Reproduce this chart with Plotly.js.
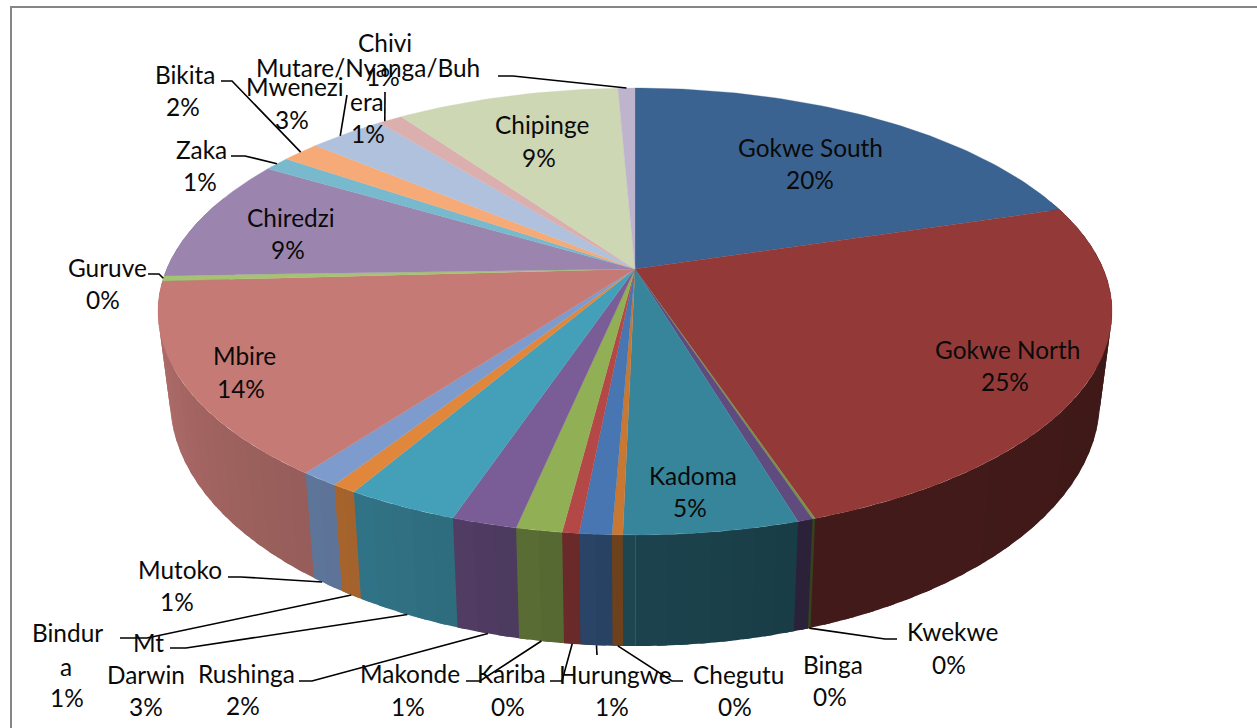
<!DOCTYPE html>
<html><head><meta charset="utf-8">
<script src="https://cdn.plot.ly/plotly-3.0.1.min.js"></script>
<style>html,body{margin:0;padding:0;background:#fff}#c{width:1257px;height:728px}</style>
</head><body><div id="c"></div>
<script>
// ---- data (clockwise from 12 o'clock) ----
const districts = ["Gokwe South","Gokwe North","Kwekwe","Binga","Kadoma","Chegutu","Hurungwe","Kariba","Makonde","Rushinga","Mt Darwin","Bindura","Mutoko","Mbire","Guruve","Chiredzi","Zaka","Bikita","Mwenezi","Chivi","Chipinge","Mutare/Nyanga/Buhera"];
const shares = [20.3,24.6,0.08,0.43,4.93,0.3,0.91,0.47,1.3,1.85,3.2,0.7,1.1,13.96,0.4,9.0,1.05,1.55,3.1,1.0,9.09,0.69];
const colours = [[58,99,145],[147,58,56],[120,145,70],[95,75,125],[55,133,155],[200,120,50],[72,118,178],[180,72,70],[145,175,85],[122,92,150],[68,160,185],[225,135,60],[125,155,205],[197,122,118],[165,195,115],[155,133,175],[120,185,205],[245,170,120],[175,193,220],[220,175,175],[205,215,180],[190,180,205]];

// ---- label placement: text lines with centres; leader: elbow points, rim = which edge it meets ----
const labelPlacement = {
 "Gokwe South":{lines:[["Gokwe South",810,147.5],["%",810,179.5]]},
 "Gokwe North":{lines:[["Gokwe North",1007,349.5],["%",1005,381.5]]},
 "Kwekwe":{lines:[["Kwekwe",952,631.5],["%",949,664.5]],leader:[[897,639],[885,639]],rim:"bottom"},
 "Binga":{lines:[["Binga",833,664.5],["%",830,696.5]]},
 "Kadoma":{lines:[["Kadoma",693,475.5],["%",690,507.5]]},
 "Chegutu":{lines:[["Chegutu",738,674.5],["%",735,706.5]],leader:[[683,681],[672,681]],rim:"bottom"},
 "Hurungwe":{lines:[["Hurungwe",615,674.5],["%",612,706.5]],leader:[[597,655]],rim:"bottom"},
 "Kariba":{lines:[["Kariba",511,673.5],["%",508,706.5]],leader:[[550,681],[562,681]],rim:"bottom"},
 "Makonde":{lines:[["Makonde",410,673.5],["%",408,706.5]],leader:[[466,681],[480,681]],rim:"bottom"},
 "Rushinga":{lines:[["Rushinga",246,673.5],["%",243,705.5]],leader:[[299,681],[312,681]],rim:"bottom"},
 "Mt Darwin":{lines:[["Mt",148,642.5],["Darwin",146,674.5],["%",146,706.5]],leader:[[170,648],[186,648]],rim:"bottom"},
 "Bindura":{lines:[["Bindur",67,632.5],["a",66,666.5],["%",67,697.5]],leader:[[120,638],[147,638]],rim:"bottom"},
 "Mutoko":{lines:[["Mutoko",180,569.5],["%",177,601.5]],leader:[[228,577],[241,577]],rim:"bottom",along:0.7},
 "Mbire":{lines:[["Mbire",244,355.5],["%",241,388.5]]},
 "Guruve":{lines:[["Guruve",107,267.5],["%",103,299.5]],leader:[[148,274],[159,274]],rim:"top"},
 "Chiredzi":{lines:[["Chiredzi",291,217.5],["%",288,249.5]]},
 "Zaka":{lines:[["Zaka",201,149.5],["%",200,181.5]],leader:[[231,156],[245,156]],rim:"top"},
 "Bikita":{lines:[["Bikita",185,74.5],["%",183,106.5]],leader:[[221,81],[232,81]],rim:"top"},
 "Mwenezi":{lines:[["Mwenezi",295,86.5],["%",292,119.5]],leader:[[347,95]],rim:"top",along:0.4},
 "Chivi":{lines:[["Chivi",385,42.5],["%",383,76.5]],leader:[[385,92]],rim:"top",along:0.25},
 "Chipinge":{lines:[["Chipinge",542,124.5],["%",539,157.5]]},
 "Mutare/Nyanga/Buhera":{lines:[["Mutare/Nyanga/Buh",368,67.5],["era",367,101.5],["%",368,133.5]],leader:[[498,76],[513,76]],rim:"top"}
};

// ---- perspective of the tilted disc ----
const CX = 635, C = 0.19;
const topRim = {k:468.3, a:-164.3, b:269, s:1};
const botRim = {k:468.3, a:-170, b:353.3, s:1.026};
function project(rim, deg, r){
  const t = deg*Math.PI/180, X = r*Math.sin(t), Y = r*Math.cos(t);
  return [CX + rim.k*X/(rim.s*(1+C*Y)), (rim.a*Y+rim.b)/(1+C*Y)];
}
// side shading by angle (clockwise from 12 o'clock)
const shadeStops = [[0,.42],[100,.42],[162,.45],[178,.5],[183,.56],[200,.68],[215,.75],[260,.9],[360,.9]];
function shade(deg){
  for(let i=1;i<shadeStops.length;i++){
    if(deg<=shadeStops[i][0]){
      const [a,va]=shadeStops[i-1],[b,vb]=shadeStops[i];
      return va+(vb-va)*(deg-a)/(b-a);
    }
  }
  return .9;
}
const total = shares.reduce((a,b)=>a+b,0);
let acc = 0;
const slices = shares.map((v,i)=>{const s=acc/total*360; acc+=v; return {i,start:s,end:acc/total*360};});

const traces = [];
// side walls: thin strips; each runs a little under the next one painted, towards the front
const rightStrips = [], leftStrips = [];
slices.forEach(sl=>{
  const n = Math.max(1,Math.ceil((sl.end-sl.start)/2.5));
  for(let j=0;j<n;j++){
    const a = sl.start+(sl.end-sl.start)*j/n, b = sl.start+(sl.end-sl.start)*(j+1)/n, m=(a+b)/2;
    if(m<70||m>290) continue;
    (m<180?rightStrips:leftStrips).push({i:sl.i,a,b,m});
  }
});
rightStrips.sort((p,q)=>p.m-q.m);
leftStrips.sort((p,q)=>q.m-p.m);
function addStrip(st,a,b){
  const c = colours[st.i].map(v=>Math.round(v*shade(st.m)));
  const col = `rgb(${c.join(",")})`;
  const p = [];
  for(let d=a;d<b;d+=0.5) p.push(project(topRim,d,1));
  p.push(project(topRim,b,1));
  p.push(project(botRim,b,1));
  for(let d=b-0.5;d>a;d-=0.5) p.push(project(botRim,d,1));
  p.push(project(botRim,a,1));
  p.push(p[0]);
  traces.push({type:"scatter",mode:"none",x:p.map(q=>q[0]),y:p.map(q=>q[1]),fill:"toself",fillcolor:col,hoverinfo:"skip",showlegend:false});
}
rightStrips.forEach(st=>addStrip(st,st.a,st.b+1));
leftStrips.forEach(st=>addStrip(st,Math.max(180,st.a-1),st.b));
// top face
slices.forEach(sl=>{
  const pts=[project(topRim,0,0)];
  const n=Math.max(2,Math.ceil(sl.end-sl.start));
  for(let j=0;j<=n;j++) pts.push(project(topRim,sl.start+(sl.end-sl.start)*j/n,1));
  pts.push(pts[0]);
  const col=`rgb(${colours[sl.i].join(",")})`;
  traces.push({type:"scatter",mode:"lines",x:pts.map(q=>q[0]),y:pts.map(q=>q[1]),fill:"toself",fillcolor:col,line:{color:col,width:0.3},name:districts[sl.i],hoverinfo:"skip",showlegend:false});
});
// leaders and labels
const annotations=[];
districts.forEach((name,i)=>{
  const pl=labelPlacement[name], pct=Math.round(shares[i]/total*100)+"%";
  pl.lines.forEach(l=>annotations.push({x:l[1],y:l[2],xref:"x",yref:"y",text:l[0]==="%"?pct:l[0],showarrow:false,xanchor:"center",yanchor:"middle",font:{family:"Lato, Carlito, sans-serif",size:24.4,color:"#0a0a0a"}}));
  if(pl.leader){
    const f=pl.along===undefined?0.5:pl.along;
    const deg=slices[i].start+(slices[i].end-slices[i].start)*f;
    const end=project(pl.rim==="top"?topRim:botRim,deg,1);
    const path=pl.leader.concat([end]);
    traces.push({type:"scatter",mode:"lines",x:path.map(q=>q[0]),y:path.map(q=>q[1]),line:{color:"#000",width:1.6},hoverinfo:"skip",showlegend:false});
  }
});
const layout={width:1257,height:728,margin:{l:0,r:0,t:0,b:0},paper_bgcolor:"#fff",plot_bgcolor:"#fff",showlegend:false,
 xaxis:{range:[0,1257],visible:false,fixedrange:true},
 yaxis:{range:[728,0],visible:false,fixedrange:true},
 annotations,
 shapes:[
  {type:"line",xref:"paper",yref:"paper",x0:11/1257,x1:1,y0:1-7/728,y1:1-7/728,line:{color:"#868686",width:2}},
  {type:"line",xref:"paper",yref:"paper",x0:11/1257,x1:11/1257,y0:1-6/728,y1:0,line:{color:"#868686",width:2}}
 ]};
Plotly.newPlot("c",traces,layout,{displayModeBar:false,staticPlot:true});
</script></body></html>
